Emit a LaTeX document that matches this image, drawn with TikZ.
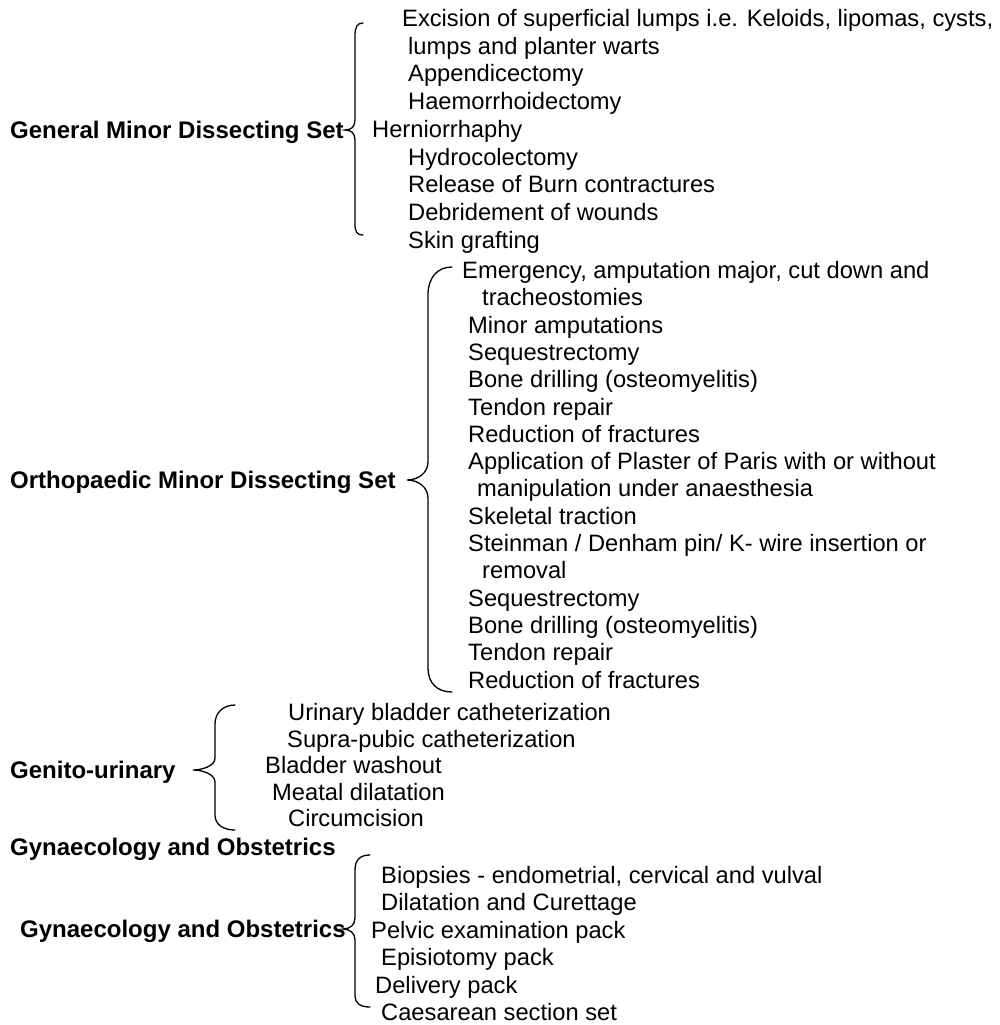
\documentclass[tikz,border=0pt]{standalone}
\usepackage{fontspec}
\setmainfont{Liberation Sans}
\begin{document}
\begin{tikzpicture}[x=1pt,y=-1pt,
  item/.style={anchor=west,inner sep=0pt,text height=17pt,text depth=0pt,font=\fontsize{23.7}{28}\selectfont},
  head/.style={item,font=\fontsize{24}{28}\selectfont\bfseries},
  bracepath/.style={line width=1.3pt,line cap=round}]
\useasboundingbox (0,0) rectangle (999,1025);
% General
\node[head] (h1) at (10,130) {General Minor Dissecting Set};
\node[item] (g1) at (402,18) {Excision of superficial lumps i.e. Keloids, lipomas, cysts,};
\node[item] (g2) at (408,45.7) {lumps and planter warts};
\node[item] (g3) at (408,73.4) {Appendicectomy};
\node[item] (g4) at (408,101.1) {Haemorrhoidectomy};
\node[item] (g5) at (372,128.8) {Herniorrhaphy};
\node[item] (g6) at (408,156.5) {Hydrocolectomy};
\node[item] (g7) at (408,184.2) {Release of Burn contractures};
\node[item] (g8) at (408,211.9) {Debridement of wounds};
\node[item] (g9) at (408,239.6) {Skin grafting};
\draw[bracepath] (363,23) .. controls (357,23) and (355,27) .. (355,36) -- (355,120)
  .. controls (355,127) and (351,130) .. (345,130)
  .. controls (351,130) and (355,133) .. (355,140) -- (355,224)
  .. controls (355,232) and (357,235) .. (363,235);
% Orthopaedic
\node[head] (h2) at (10,480) {Orthopaedic Minor Dissecting Set};
\node[item] (o1) at (462,270) {Emergency, amputation major, cut down and};
\node[item] (o2) at (482,297.3) {tracheostomies};
\node[item] (o3) at (468,324.6) {Minor amputations};
\node[item] (o4) at (468,351.9) {Sequestrectomy};
\node[item] (o5) at (468,379.2) {Bone drilling (osteomyelitis)};
\node[item] (o6) at (468,406.5) {Tendon repair};
\node[item] (o7) at (468,433.8) {Reduction of fractures};
\node[item] (o8) at (468,461.1) {Application of Plaster of Paris with or without};
\node[item] (o9) at (477,488.4) {manipulation under anaesthesia};
\node[item] (o10) at (468,515.7) {Skeletal traction};
\node[item] (o11) at (468,543) {Steinman / Denham pin/ K- wire insertion or};
\node[item] (o12) at (482,570.3) {removal};
\node[item] (o13) at (468,597.6) {Sequestrectomy};
\node[item] (o14) at (468,624.9) {Bone drilling (osteomyelitis)};
\node[item] (o15) at (468,652.2) {Tendon repair};
\node[item] (o16) at (468,679.5) {Reduction of fractures};
\draw[bracepath] (452,267) .. controls (437,267) and (428,278) .. (428,295) -- (428,462)
  .. controls (428,473) and (418,480) .. (407,480)
  .. controls (418,480) and (428,487) .. (428,498) -- (428,668)
  .. controls (428,683) and (437,692) .. (452,692);
% Genito-urinary
\node[head] (h3) at (10,770) {Genito-urinary};
\node[item] (u1) at (288,712) {Urinary bladder catheterization};
\node[item] (u2) at (287,738.5) {Supra-pubic catheterization};
\node[item] (u3) at (265,765) {Bladder washout};
\node[item] (u4) at (272,791.5) {Meatal dilatation};
\node[item] (u5) at (288,818) {Circumcision};
\draw[bracepath] (235,705) .. controls (224,705) and (215,712) .. (215,724) -- (215,758)
  .. controls (215,766) and (202,770) .. (193,770)
  .. controls (202,770) and (215,774) .. (215,782) -- (215,815)
  .. controls (215,825) and (224,830) .. (235,830);
% Gynaecology
\node[head] (h4) at (10,847) {Gynaecology and Obstetrics};
\node[head] (h5) at (20,929) {Gynaecology and Obstetrics};
\node[item] (y1) at (381,875) {Biopsies - endometrial, cervical and vulval};
\node[item] (y2) at (381,902.4) {Dilatation and Curettage};
\node[item] (y3) at (371,929.8) {Pelvic examination pack};
\node[item] (y4) at (381,957.2) {Episiotomy pack};
\node[item] (y5) at (375,984.6) {Delivery pack};
\node[item] (y6) at (381,1012) {Caesarean section set};
\draw[bracepath] (370,855) .. controls (360,855) and (355,860) .. (355,870) -- (355,918)
  .. controls (355,925) and (350,929) .. (343,929)
  .. controls (350,929) and (355,933) .. (355,940) -- (355,996)
  .. controls (355,1003) and (360,1007) .. (370,1007);
\end{tikzpicture}
\end{document}
